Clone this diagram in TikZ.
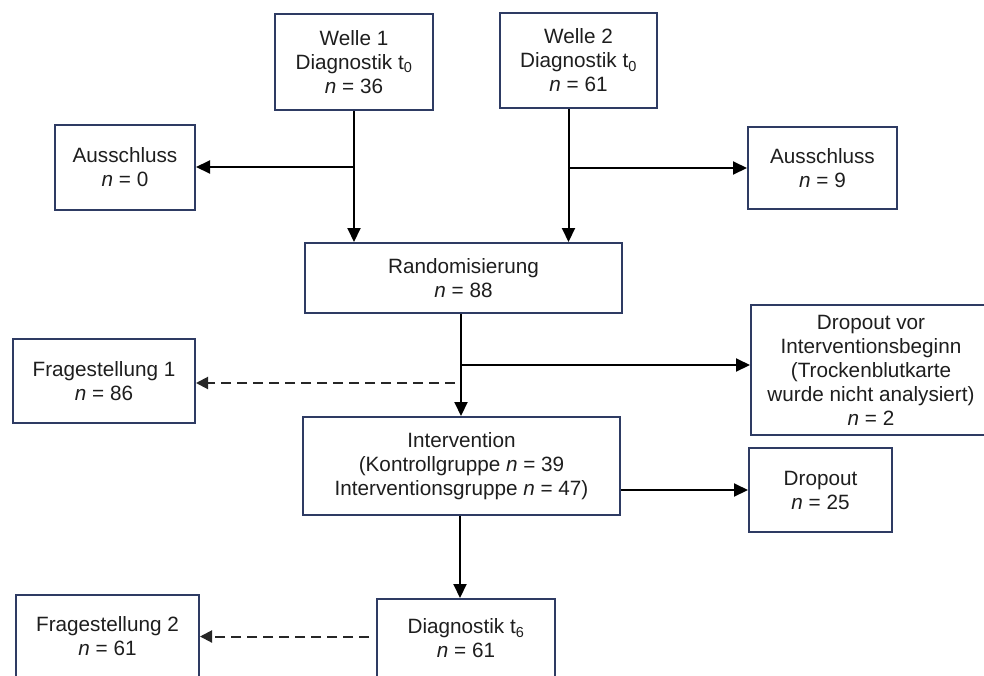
\documentclass[tikz,border=0pt]{standalone}
\usepackage{fontspec}
\setmainfont{Liberation Sans}
\usepackage{xcolor}
\usepackage{tikz}
\usetikzlibrary{arrows.meta,positioning,calc}
\definecolor{boxline}{HTML}{2E3B63}
\definecolor{textdark}{HTML}{1E1E1E}

\begin{document}
\begin{tikzpicture}[
  x=1pt,y=-1pt,
  box/.style={rectangle,draw=boxline,line width=2pt,fill=white,inner sep=0pt,
              align=center,text=textdark,
              font=\fontsize{20.7}{24}\selectfont},
  arr/.style={-{Triangle[length=14pt,width=13pt]},line width=2pt,black},
  darr/.style={-{Triangle[length=12pt,width=12pt]},line width=2pt,black!85,
               dash pattern=on 10pt off 6pt}
]
\clip (0,0) rectangle (984,675);
\fill[white] (0,0) rectangle (984,675);

% Wellen
\node[box,minimum width=158pt,minimum height=96pt] (w1) at (354,62)
  {Welle 1\\Diagnostik t\textsubscript{0}\\\textit{n} = 36};
\node[box,minimum width=157pt,minimum height=95pt] (w2) at (578.5,60.5)
  {Welle 2\\Diagnostik t\textsubscript{0}\\\textit{n} = 61};
\node[box,minimum width=140pt,minimum height=85pt] (a1) at (125,167)
  {Ausschluss\\\textit{n} = 0};
\node[box,minimum width=149pt,minimum height=82pt] (a2) at (822.5,168)
  {Ausschluss\\\textit{n} = 9};

% Randomisierung und Intervention
\node[box,minimum width=317pt,minimum height=70pt] (rand) at (463.5,278)
  {Randomisierung\\\textit{n} = 88};
\node[box,minimum width=182pt,minimum height=84pt] (f1) at (104,381)
  {Fragestellung 1\\\textit{n} = 86};
\node[box,minimum width=240pt,minimum height=130pt] (dv) at (871,370)
  {Dropout vor\\Interventionsbeginn\\(Trockenblutkarte\\wurde nicht analysiert)\\\textit{n} = 2};
\node[box,minimum width=317pt,minimum height=98pt] (int) at (461.5,466)
  {Intervention\\(Kontrollgruppe \textit{n} = 39\\Interventionsgruppe \textit{n} = 47)};
\node[box,minimum width=143pt,minimum height=84pt] (dout) at (820.5,490)
  {Dropout\\\textit{n} = 25};

% t6
\node[box,minimum width=178pt,minimum height=79pt] (dt6) at (466,638.5)
  {Diagnostik t\textsubscript{6}\\\textit{n} = 61};
\node[box,minimum width=183pt,minimum height=83pt] (f2) at (107.5,636.5)
  {Fragestellung 2\\\textit{n} = 61};

\coordinate (b1) at (461,365);
\coordinate (b2) at (455,383);

% connectors
\draw[arr] (w1.south) -- (w1.south |- rand.north);
\draw[arr] (w1.south |- a1.east) -- (a1.east);
\draw[arr] ([xshift=-10pt]w2.south) -- ([xshift=-10pt]w2.south |- rand.north);
\draw[arr] ([xshift=-10pt]w2.south |- a2.west) -- (a2.west);
\draw[arr] (b1 |- rand.south) -- (b1 |- int.north);
\draw[arr] (b1) -- (b1 -| dv.west);
\draw[darr] (b2) -- (b2 -| f1.east);
\draw[arr] (int.east |- dout.west) -- (dout.west);
\draw[arr] ([xshift=-1.5pt]int.south) -- ([xshift=-1.5pt]int.south |- dt6.north);
\draw[darr] ([xshift=-7pt]dt6.west |- f2.east) -- (f2.east);
\end{tikzpicture}
\end{document}
